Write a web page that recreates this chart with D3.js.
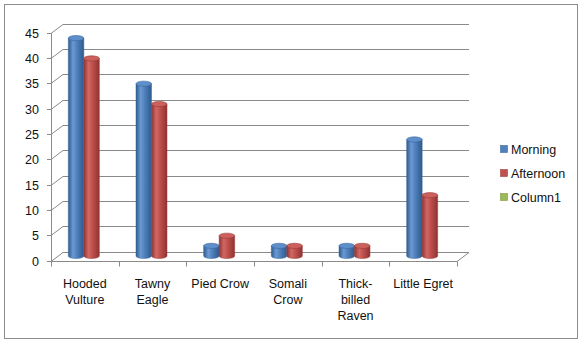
<!DOCTYPE html>
<html>
<head>
<meta charset="utf-8">
<script src="https://cdn.jsdelivr.net/npm/d3@7/dist/d3.min.js"></script>
<style>
  html, body { margin: 0; padding: 0; background: #fff; }
  svg { display: block; font-family: "Liberation Sans", Arial, sans-serif; }
</style>
</head>
<body>
<svg id="chart" width="584" height="344"></svg>
<script>
// Bird counts by time of day
const categories = ["Hooded Vulture", "Tawny Eagle", "Pied Crow", "Somali Crow", "Thick-billed Raven", "Little Egret"];
const categoryLines = [["Hooded", "Vulture"], ["Tawny", "Eagle"], ["Pied Crow"], ["Somali", "Crow"], ["Thick-", "billed", "Raven"], ["Little Egret"]];
const seriesNames = ["Morning", "Afternoon", "Column1"];
const morning = [43, 34, 2, 2, 2, 23];
const afternoon = [39, 30, 4, 2, 2, 12];
const yTicks = [0, 5, 10, 15, 20, 25, 30, 35, 40, 45];

const colors = {
  Morning:   { base: "#4F81BD", dark: "#2E5A8C", light: "#6B9AD3", top: "#5F8FCA", edge: "#3A679E" },
  Afternoon: { base: "#C0504D", dark: "#8E3432", light: "#D06864", top: "#CC605C", edge: "#9A3B38" },
  Column1:   { base: "#9BBB59" }
};

const FONT = 12.5;
const svg = d3.select("#chart");

// outer frame
svg.append("rect")
  .attr("x", 4.5).attr("y", 4.5).attr("width", 573).attr("height", 334)
  .attr("fill", "#fff").attr("stroke", "#8c8c8c").attr("stroke-width", 1);

// 3-D depth offset of the back wall
const depth = { dx: 12, dy: -9 };

const x = d3.scaleBand().domain(categories).range([51, 457]).paddingInner(0).paddingOuter(0);
const y = d3.scaleLinear().domain([0, 45]).range([260.5, 32.5]);

const grid = svg.append("g").attr("stroke", "#8a8a8a").attr("stroke-width", 1).attr("fill", "none");

// back-wall gridlines and their side-wall diagonals
yTicks.forEach(t => {
  const yf = Math.round(y(t)) + 0.5;
  grid.append("line")
    .attr("x1", 51 + depth.dx).attr("x2", 457 + depth.dx)
    .attr("y1", yf + depth.dy).attr("y2", yf + depth.dy);
  grid.append("line")
    .attr("x1", 51).attr("y1", yf)
    .attr("x2", 51 + depth.dx).attr("y2", yf + depth.dy);
});

// floor: front edge and right diagonal
const y0 = Math.round(y(0)) + 0.5;
grid.append("line").attr("x1", 51).attr("x2", 457).attr("y1", y0).attr("y2", y0);
grid.append("line").attr("x1", 457).attr("y1", y0).attr("x2", 457 + depth.dx).attr("y2", y0 + depth.dy);

// value axis
const yAxis = svg.append("g");
yAxis.append("line").attr("x1", 51.5).attr("x2", 51.5)
  .attr("y1", Math.round(y(45)) + 0.5).attr("y2", y0)
  .attr("stroke", "#8a8a8a");
yTicks.forEach(t => {
  const yf = Math.round(y(t)) + 0.5;
  yAxis.append("line").attr("x1", 47).attr("x2", 51.5).attr("y1", yf).attr("y2", yf).attr("stroke", "#8a8a8a");
  yAxis.append("text")
    .attr("x", 39).attr("y", yf + 4.5)
    .attr("text-anchor", "end").attr("font-size", FONT).attr("fill", "#111")
    .text(t);
});

// category axis ticks and labels
const xAxis = svg.append("g");
const bounds = categories.map(c => x(c)).concat([x.range()[1]]);
bounds.forEach(b => {
  const bx = Math.round(b) + 0.5;
  xAxis.append("line").attr("x1", bx).attr("x2", bx).attr("y1", y0).attr("y2", y0 + 5).attr("stroke", "#8a8a8a");
});
categories.forEach((c, i) => {
  const cx = x(c) + x.bandwidth() / 2;
  const t = xAxis.append("text")
    .attr("text-anchor", "middle").attr("font-size", FONT).attr("fill", "#111");
  categoryLines[i].forEach((line, j) => {
    t.append("tspan").attr("x", cx).attr("y", 287.5 + j * 16).text(line);
  });
});

// gradients for the cylinders
const defs = svg.append("defs");
["Morning", "Afternoon"].forEach(s => {
  const c = colors[s];
  const g = defs.append("linearGradient").attr("id", "cyl-" + s).attr("x1", 0).attr("x2", 1).attr("y1", 0).attr("y2", 0);
  g.append("stop").attr("offset", "0%").attr("stop-color", c.dark);
  g.append("stop").attr("offset", "30%").attr("stop-color", c.light);
  g.append("stop").attr("offset", "55%").attr("stop-color", c.base);
  g.append("stop").attr("offset", "100%").attr("stop-color", c.dark);
});

// cylinders, drawn from each series value
const series = [
  { name: "Morning", values: morning },
  { name: "Afternoon", values: afternoon }
];
const inner = d3.scaleBand().domain(series.map(s => s.name)).range([-15.5, 15.5]);
const baseShift = -1;
const midDepth = depth.dy / 2;
const ry = 2.6;

const bars = svg.append("g");
categories.forEach((c, i) => {
  const cx = x(c) + x.bandwidth() / 2 + baseShift;
  series.forEach(s => {
    const v = s.values[i];
    const col = colors[s.name];
    const left = cx + inner(s.name);
    const w = inner.bandwidth();
    const rx = w / 2;
    const yb = y(0) + midDepth;
    const yt = y(v) + midDepth;
    // side of the cylinder with a rounded bottom edge
    const d = `M${left},${yt} L${left},${yb} A${rx},${ry} 0 0 0 ${left + w},${yb} L${left + w},${yt} Z`;
    bars.append("path").attr("d", d)
      .attr("fill", `url(#cyl-${s.name})`)
      .attr("stroke", col.edge).attr("stroke-width", 0.5);
    bars.append("ellipse")
      .attr("cx", left + rx).attr("cy", yt).attr("rx", rx).attr("ry", ry)
      .attr("fill", col.top).attr("stroke", col.edge).attr("stroke-width", 0.6);
  });
});

// legend
const legend = svg.append("g");
seriesNames.forEach((n, i) => {
  const ly = 145 + i * 24;
  legend.append("rect")
    .attr("x", 500.5).attr("y", ly + 0.5).attr("width", 7).attr("height", 7)
    .attr("fill", colors[n].base)
    .attr("stroke", d3.color(colors[n].base).darker(0.6)).attr("stroke-width", 0.6);
  legend.append("text")
    .attr("x", 511).attr("y", ly + 8.5)
    .attr("font-size", FONT).attr("fill", "#111")
    .text(n);
});
</script>
</body>
</html>
